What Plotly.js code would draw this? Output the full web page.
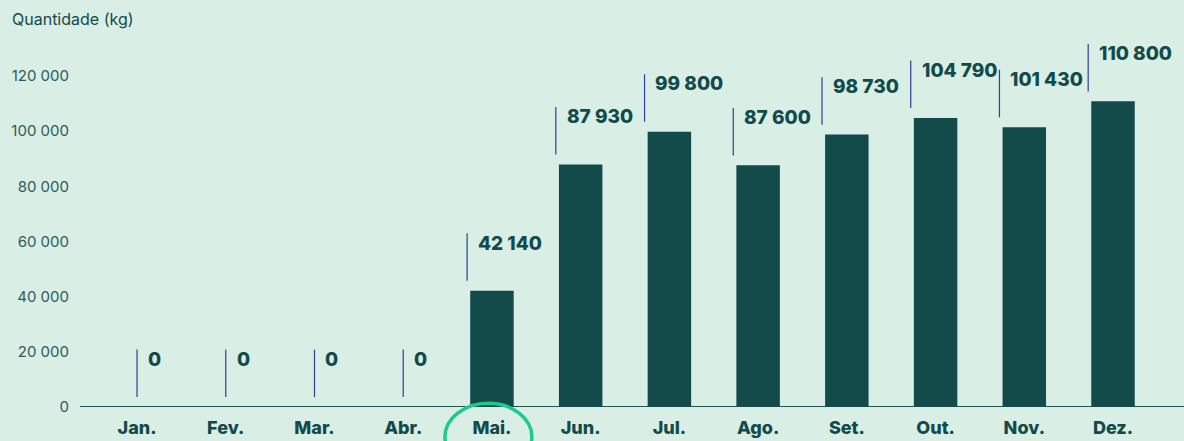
<!DOCTYPE html>
<html>
<head>
<meta charset="utf-8">
<script src="https://cdn.plot.ly/plotly-3.0.1.min.js"></script>
<style>
html,body{margin:0;padding:0;background:#d9eee5;}
#chart{width:1184px;height:441px;}
</style>
</head>
<body>
<div id="chart"></div>
<script>
const months = ["Jan.","Fev.","Mar.","Abr.","Mai.","Jun.","Jul.","Ago.","Set.","Out.","Nov.","Dez."];
const quantities = [0,0,0,0,42140,87930,99800,87600,98730,104790,101430,110800];
const valueLabels = ["0","0","0","0","42 140","87 930","99 800","87 600","98 730","104 790","101 430","110 800"];
const highlightMonth = "Mai.";

const BG = "#d9eee5";
const BAR = "#134a4a";
const TXT = "#134a4a";
const LINE = "#2f3f96";

const idx = months.map((m,i)=>i);

const shapes = [];
const annotations = [];

months.forEach((m,i)=>{
  const v = quantities[i];
  const lx = v > 0 ? i - 0.28 : i;
  shapes.push({type:"line", xref:"x", yref:"y", x0:lx, x1:lx, y0:v+3600, y1:v+20800,
    line:{color:LINE, width:1.2}});
  annotations.push({xref:"x", yref:"y", x:lx + 0.1, y:v+17300, text:valueLabels[i],
    showarrow:false, xanchor:"left", yanchor:"middle",
    font:{family:"Inter, Lato, sans-serif", size:19, color:TXT, weight:800}});
});

// baseline
shapes.push({type:"line", xref:"paper", yref:"y", x0:0, x1:1, y0:0, y1:0,
  line:{color:"#235653", width:2}, layer:"below"});

// highlight ellipse around Mai.
const hi = months.indexOf(highlightMonth);
shapes.push({type:"circle", xref:"x", yref:"paper", x0:hi-0.53, x1:hi+0.45, y0:0.01, y1:-0.17,
  line:{color:"#1fc98b", width:3.5}});

annotations.push({xref:"paper", yref:"paper", x:-0.0635, y:1.04, xanchor:"left", yanchor:"middle",
  text:"Quantidade (kg)", showarrow:false,
  font:{family:"Inter, Lato, sans-serif", size:16, color:TXT}});

const trace = {
  type:"bar", x:idx, y:quantities, width:0.49,
  marker:{color:BAR, line:{width:0}},
  hoverinfo:"skip"
};

const layout = {
  width:1184, height:441,
  margin:{l:80, r:0, t:34, b:34},
  paper_bgcolor:BG, plot_bgcolor:BG,
  separators:", ",
  showlegend:false,
  xaxis:{
    range:[-0.643, 11.8],
    tickmode:"array", tickvals:idx, ticktext:months,
    showgrid:false, zeroline:false, showline:false, ticks:"",
    tickfont:{family:"Inter, Lato, sans-serif", size:18, color:TXT, weight:800},
    ticklabelstandoff:8
  },
  yaxis:{
    range:[0, 135200],
    tickmode:"linear", tick0:0, dtick:20000, tickformat:",d",
    showgrid:false, zeroline:false, showline:false, ticks:"",
    tickfont:{family:"Inter, Lato, sans-serif", size:15, color:"#2b5d5b"},
    ticklabelstandoff:10
  },
  shapes:shapes,
  annotations:annotations,
  font:{family:"Inter, Lato, sans-serif"}
};

Plotly.newPlot("chart", [trace], layout, {displayModeBar:false, staticPlot:true});
</script>
</body>
</html>
